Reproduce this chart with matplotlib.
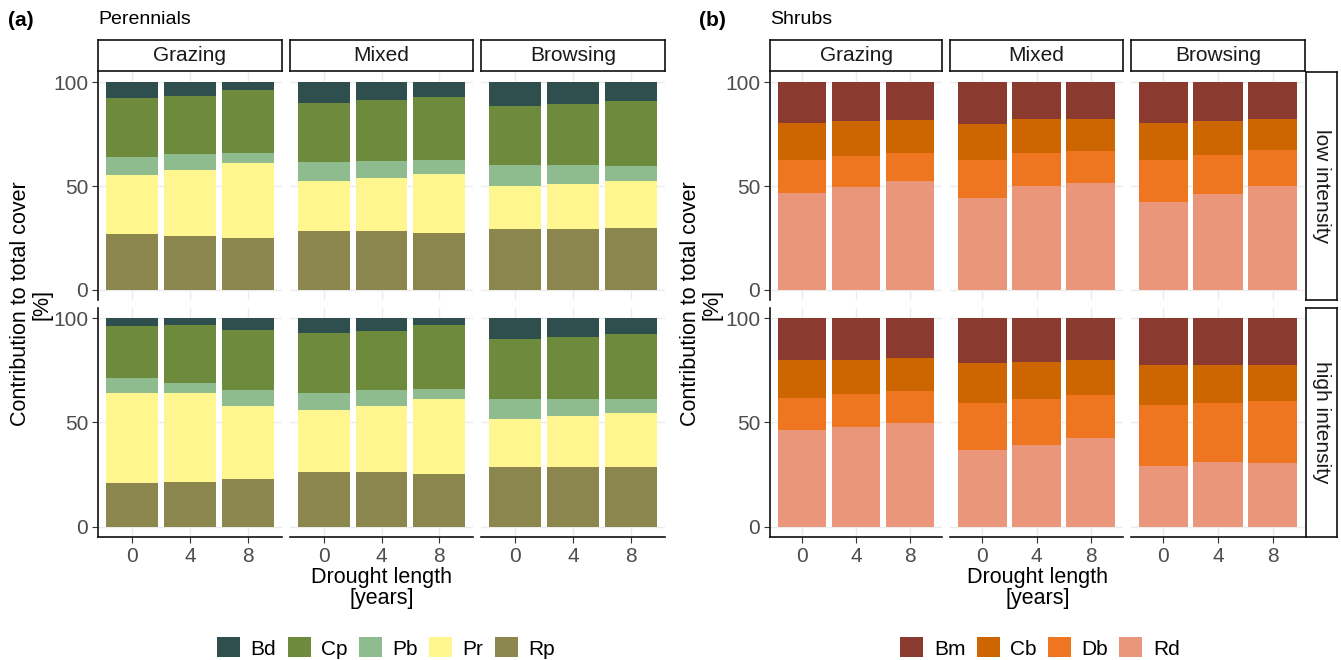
import matplotlib
matplotlib.use("Agg")
import matplotlib.pyplot as plt
from matplotlib.patches import Patch

plt.rcParams['font.family'] = ['Liberation Sans', 'DejaVu Sans']

W, H = 1341, 660

years = [0, 4, 8]
treatments = ["Grazing", "Mixed", "Browsing"]
intensities = ["low intensity", "high intensity"]

# values in %, one row per treatment (Grazing, Mixed, Browsing), columns = drought 0, 4, 8
# perennials, low intensity
rp_low = [[26.7, 25.9, 25.0], [28.3, 28.2, 27.5], [29.1, 29.3, 29.8]]
pr_low = [[28.8, 31.9, 36.1], [24.0, 25.6, 28.5], [21.1, 21.9, 22.5]]
pb_low = [[8.5, 7.5, 5.0], [9.3, 8.1, 6.7], [10.1, 9.0, 7.5]]
cp_low = [[28.3, 28.3, 30.4], [28.6, 29.6, 30.4], [28.3, 29.6, 31.1]]
bd_low = [[7.7, 6.4, 3.5], [9.8, 8.5, 6.9], [11.4, 10.2, 9.1]]
# perennials, high intensity
rp_high = [[21.0, 21.3, 22.8], [26.4, 26.3, 25.3], [28.7, 28.8, 28.8]]
pr_high = [[43.4, 43.1, 35.2], [29.7, 31.7, 36.2], [23.2, 24.2, 25.7]]
pb_high = [[6.9, 4.8, 7.4], [8.3, 7.4, 4.7], [9.6, 8.5, 7.0]]
cp_high = [[24.9, 27.6, 28.8], [28.4, 28.5, 30.6], [28.6, 29.5, 31.0]]
bd_high = [[3.8, 3.2, 5.8], [7.2, 6.1, 3.2], [9.9, 9.0, 7.5]]
# shrubs, low intensity
rd_low = [[46.6, 49.3, 52.3], [44.2, 49.9, 51.4], [42.2, 46.1, 49.9]]
db_low = [[16.0, 15.2, 13.8], [18.2, 16.0, 15.3], [20.2, 18.7, 17.3]]
cb_low = [[17.6, 16.9, 15.7], [17.6, 16.3, 15.5], [17.8, 16.5, 15.2]]
bm_low = [[19.8, 18.6, 18.2], [20.0, 17.8, 17.8], [19.8, 18.7, 17.6]]
# shrubs, high intensity
rd_high = [[46.2, 47.8, 50.0], [36.7, 39.4, 42.5], [29.3, 30.9, 30.4]]
db_high = [[15.8, 15.7, 14.9], [22.6, 21.8, 20.5], [29.0, 28.4, 29.7]]
cb_high = [[17.8, 16.6, 15.9], [19.1, 17.8, 16.8], [19.1, 18.4, 17.5]]
bm_high = [[20.2, 19.9, 19.2], [21.6, 21.0, 20.2], [22.6, 22.3, 22.4]]

per_names = ["Bd", "Cp", "Pb", "Pr", "Rp"]
per_colors = ["#2F4F4F", "#6E8B3D", "#8FBC8F", "#FFF68F", "#8B864E"]
per_data = [
    [bd_low, cp_low, pb_low, pr_low, rp_low],
    [bd_high, cp_high, pb_high, pr_high, rp_high],
]
shr_names = ["Bm", "Cb", "Db", "Rd"]
shr_colors = ["#8B3A2F", "#CD6600", "#EE7621", "#E9967A"]
shr_data = [
    [bm_low, cb_low, db_low, rd_low],
    [bm_high, cb_high, db_high, rd_high],
]

fig = plt.figure(figsize=(W / 100, H / 100), dpi=100)


def box(x0, y0, x1, y1):
    return [x0 / W, 1 - y1 / H, (x1 - x0) / W, (y1 - y0) / H]


def strip(x0, y0, x1, y1, text, rot=0):
    s = fig.add_axes(box(x0, y0, x1, y1))
    s.set_xticks([])
    s.set_yticks([])
    for sp in s.spines.values():
        sp.set_linewidth(1.2)
        sp.set_color("#111111")
    s.text(0.5, 0.5, text, ha="center", va="center", rotation=rot,
           fontsize=15, color="#1a1a1a", transform=s.transAxes)


row_y = [(72, 300), (308, 537)]


def draw_group(col_x, names, colors, data, label_x, title, title_x, legend_cx, right_strip=None):
    for r in range(2):
        y0, y1 = row_y[r]
        for c in range(3):
            x0, x1 = col_x[c]
            ax = fig.add_axes(box(x0, y0, x1, y1))
            bottom = [0, 0, 0]
            for k in reversed(range(len(names))):
                vals = data[r][k][c]
                ax.bar(years, vals, width=3.6, bottom=bottom, color=colors[k],
                       edgecolor="none", zorder=2)
                bottom = [b + v for b, v in zip(bottom, vals)]
            ax.set_xlim(-2.38, 10.38)
            ax.set_ylim(-5, 105)
            ax.set_xticks(years)
            ax.set_yticks([0, 50, 100])
            ax.grid(True, color="#EBEBEB", linewidth=1.0, zorder=0)
            ax.set_axisbelow(True)
            for sp in ax.spines.values():
                sp.set_visible(False)
            ax.tick_params(colors="#333333", labelcolor="#4D4D4D", labelsize=15,
                           length=4, width=0.8, pad=3)
            if c == 0:
                ax.spines["left"].set_visible(True)
                ax.spines["left"].set_color("#111111")
                ax.spines["left"].set_linewidth(1.2)
            else:
                ax.tick_params(axis="y", left=False, labelleft=False)
            if r == 1:
                ax.spines["bottom"].set_visible(True)
                ax.spines["bottom"].set_color("#111111")
                ax.spines["bottom"].set_linewidth(1.2)
            else:
                ax.tick_params(axis="x", bottom=False, labelbottom=False)
            if r == 0:
                strip(x0, 40, x1, 71, treatments[c])
            if right_strip is not None and c == 2:
                strip(right_strip[0], y0, right_strip[1], y1, intensities[r], rot=-90)

    mid = (col_x[0][0] + col_x[2][1]) / 2
    fig.text(mid / W, 1 - 588 / H, "Drought length\n[years]", ha="center", va="center",
             fontsize=15.5, color="black", linespacing=1.0)
    fig.text(label_x / W, 1 - 304 / H, "Contribution to total cover\n[%]", ha="center",
             va="center", rotation=90, fontsize=15.5, color="black", linespacing=1.0)
    fig.text(title_x / W, 1 - 20 / H, title, ha="left", va="center", fontsize=14)

    handles = [Patch(facecolor=col, edgecolor="none") for col in colors]
    fig.legend(handles, names, loc="center", bbox_to_anchor=(legend_cx / W, 1 - 648 / H),
               ncol=len(names), frameon=False, fontsize=15, handlelength=1.1,
               handleheight=1.1, handletextpad=0.5, columnspacing=0.55,
               borderpad=0, borderaxespad=0)


draw_group([(98, 282), (290, 473), (481, 665)], per_names, per_colors, per_data,
           31, "Perennials", 98, 386)
draw_group([(770, 942), (950, 1123), (1131, 1305)], shr_names, shr_colors, shr_data,
           701, "Shrubs", 770, 1040, right_strip=(1306, 1337))

fig.text(8 / W, 1 - 20 / H, "(a)", ha="left", va="center", fontsize=15, fontweight="bold")
fig.text(699 / W, 1 - 20 / H, "(b)", ha="left", va="center", fontsize=15, fontweight="bold")

fig.savefig("out.png", dpi=100)
